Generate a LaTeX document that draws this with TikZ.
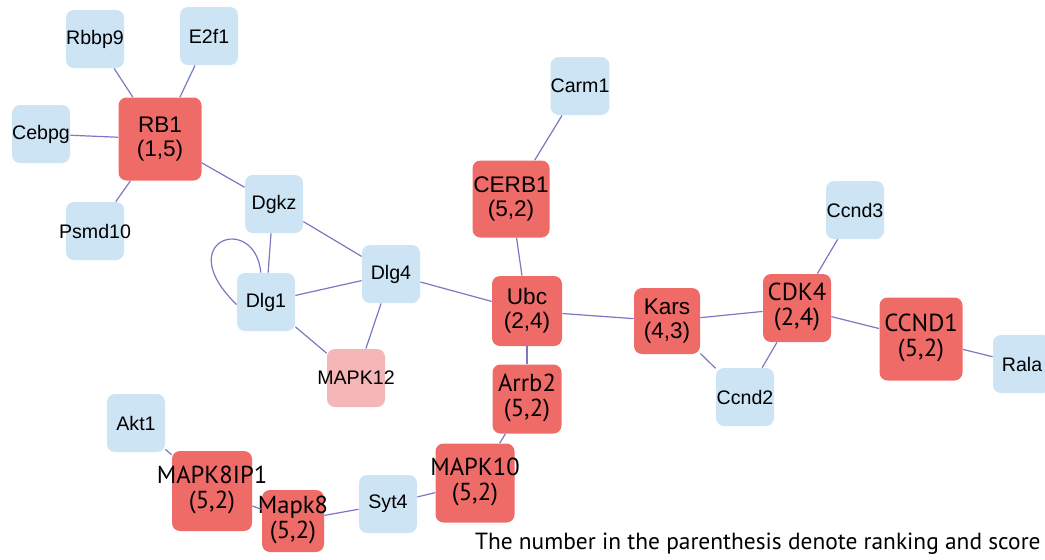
\documentclass[tikz,border=0pt]{standalone}
\usepackage{fontspec}
\setmainfont{Liberation Sans}
\newfontfamily\myriad{PT Sans}
\usepackage{tikz}
\definecolor{geneblue}{HTML}{CDE4F5}
\definecolor{hubred}{HTML}{EF6B68}
\definecolor{hubpink}{HTML}{F4B6B6}
\definecolor{edgeblue}{HTML}{7A78C2}
\newcommand{\twoline}[2]{\makebox[0pt]{\begin{tabular}{@{}c@{}}#1\\[-1pt]#2\end{tabular}}}
\tikzset{
  gene/.style={rectangle,rounded corners=4pt,fill=geneblue,minimum size=29pt,inner sep=0pt,font=\fontsize{9.8}{11}\selectfont},
  hub/.style={rectangle,rounded corners=4pt,fill=hubred,minimum size=#1,inner sep=0pt,font=\fontsize{11.3}{13}\selectfont},
  hubm/.style={hub=#1,font=\myriad\fontsize{12.3}{13.5}\selectfont},
  link/.style={draw=edgeblue,line width=0.6pt}
}

\begin{document}
\begin{tikzpicture}[x=0.5pt,y=-0.5pt]
    \useasboundingbox (0,0) rectangle (1045,559);
    \begin{scope}
    \clip (0,0) rectangle (1045,559);
    % RB1 cluster
    \node [hub=41.5pt] (RB1) at (160,139) {\twoline{RB1}{(1,5)}};
    \node [gene] (Rbbp9) at (95,39) {Rbbp9};
    \node [gene] (E2f1) at (209,36) {E2f1};
    \node [gene] (Cebpg) at (41,134) {Cebpg};
    \node [gene] (Psmd10) at (95,231) {\makebox[0pt]{Psmd10}};

    \node [gene] (Dgkz) at (274,204) {Dgkz};
    \node [gene] (Dlg1) at (266,302) {Dlg1};
    \node [gene] (Dlg4) at (391,274) {Dlg4};
    \node [gene,fill=hubpink] (MAPK12) at (356,378) {\makebox[0pt]{MAPK12}};

    % centre
    \node [gene] (Carm1) at (580,86) {Carm1};
    \node [hub=38.5pt] (CERB1) at (511,199) {\twoline{CERB1}{(5,2)}};
    \node [hub=35pt] (Ubc) at (527,311) {\twoline{Ubc}{(2,4)}};
    \node [hub=33pt] (Kars) at (667,321) {\twoline{Kars}{(4,3)}};
    \node [hubm=34.5pt] (Arrb2) at (527,399) {\twoline{Arrb2}{(5,2)}};
    \node [hubm=39.5pt] (MAPK10) at (475,483) {\twoline{MAPK10}{(5,2)}};
    \node [gene] (Syt4) at (388,504) {Syt4};
    \node [hubm=31pt] (Mapk8) at (293,521) {\twoline{Mapk8}{(5,2)}};
    \node [hubm=40pt] (MAPK8IP1) at (212,491) {\twoline{MAPK8IP1}{(5,2)}};
    \node [gene] (Akt1) at (136,423) {Akt1};

    % right
    \node [hubm=34pt] (CDK4) at (797,308) {\twoline{CDK4}{(2,4)}};
    \node [gene] (Ccnd3) at (855,210) {Ccnd3};
    \node [gene] (Ccnd2) at (745,397) {Ccnd2};
    \node [hubm=41.5pt] (CCND1) at (921,339) {\twoline{CCND1}{(5,2)}};
    \node [gene] (Rala) at (1022,364) {Rala};

    \draw [link] (RB1) -- (Rbbp9);
    \draw [link] (RB1) -- (E2f1);
    \draw [link] (RB1) -- (Cebpg);
    \draw [link] (RB1) -- (Psmd10);
    \draw [link] (RB1) -- (Dgkz);
    \draw [link] (Dgkz.south) ++(-3,0) -- (Dlg1);
    \draw [link] (Dgkz) -- (Dlg4);
    \draw [link] (Dlg1.100) .. controls (255,212) and (170,240) .. (Dlg1.185);
    \draw [link] (Dlg1) -- (Dlg4);
    \draw [link] (Dlg1) -- (MAPK12);
    \draw [link] (Dlg4) -- (MAPK12);
    \draw [link] (Dlg4) -- (Ubc);
    \draw [link] (Carm1) -- (CERB1);
    \draw [link] (CERB1) -- (Ubc);
    \draw [link] (Ubc) -- (Kars);
    \draw [link] (Ubc) -- (Arrb2);
    \draw [link] (Arrb2) -- (MAPK10);
    \draw [link] (MAPK10) -- (Syt4);
    \draw [link] (Syt4) -- (Mapk8);
    \draw [link] (Mapk8) -- (MAPK8IP1);
    \draw [link] (MAPK8IP1) -- (Akt1);
    \draw [link] (Kars) -- (CDK4);
    \draw [link] (Kars) -- (Ccnd2);
    \draw [link] (CDK4) -- (Ccnd2);
    \draw [link] (CDK4) -- (Ccnd3);
    \draw [link] (CDK4) -- (CCND1);
    \draw [link] (CCND1) -- (Rala);
    \end{scope}

    \node [anchor=base east,inner sep=0pt,font=\myriad\fontsize{11.7}{13}\selectfont] (note) at (1041,549) {The number in the parenthesis denote ranking and score};
\end{tikzpicture}
\end{document}
